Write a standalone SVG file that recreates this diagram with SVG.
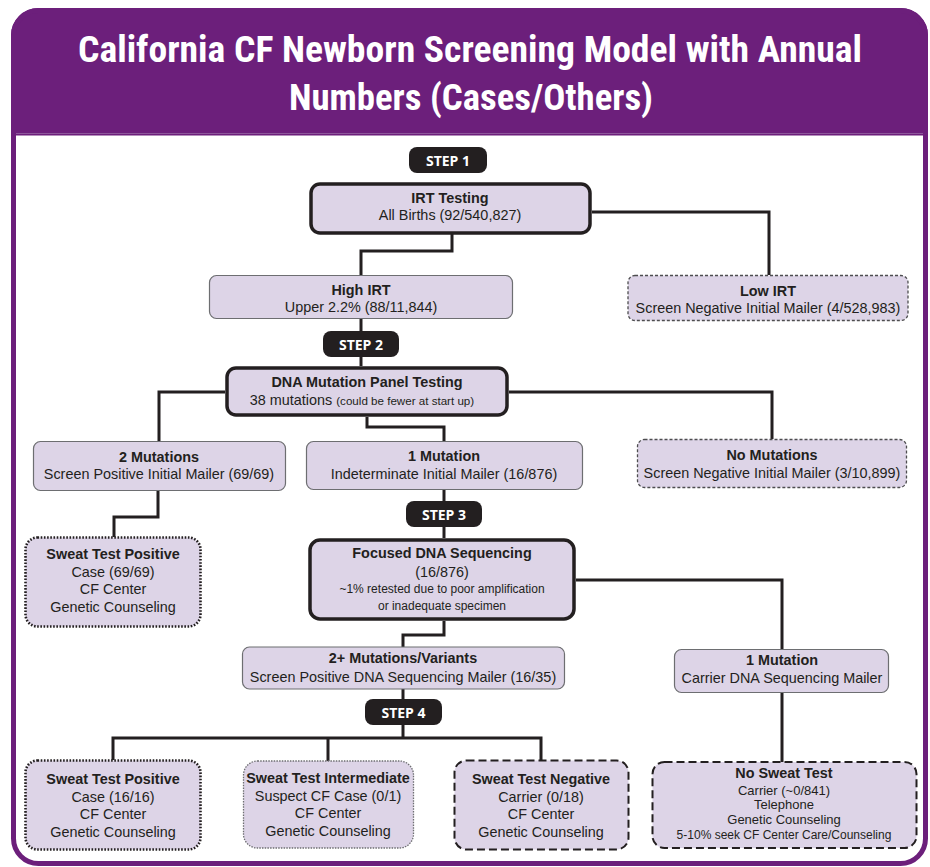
<svg xmlns="http://www.w3.org/2000/svg" width="930" height="867" viewBox="0 0 930 867">
<style>
.title{font-family:"Liberation Sans Narrow","Roboto Condensed",Roboto,"Liberation Sans",sans-serif;font-weight:700;font-size:36px;fill:#ffffff}
.t{font-family:"Liberation Sans",Arial,sans-serif;font-size:14.4px;fill:#231f20;text-anchor:middle}
.b{font-weight:700}
.s{font-size:12px}
.xs{font-size:11.6px}
.m{font-size:13px}
.pill{fill:#231f20}
.pt{font-family:"Open Sans","Liberation Sans",sans-serif;font-weight:700;font-size:14px;fill:#ffffff;text-anchor:middle}
.node{fill:#ddd4e7}
.thick{stroke:#231f20;stroke-width:3.5}
.thin{stroke:#6d6e71;stroke-width:1.2}
.fdash{stroke:#4d4d4f;stroke-width:1.3;stroke-dasharray:3 2}
.bdash{stroke:#231f20;stroke-width:2;stroke-dasharray:8 4}
.dot{stroke:#231f20;stroke-width:2.6;stroke-dasharray:1.6 1.6}
.fdot{stroke:#6d6e71;stroke-width:1.3;stroke-dasharray:1.5 1.2}
#connectors path{fill:none;stroke:#231f20;stroke-width:3}
</style>

<g id="frame">
<rect x="13.5" y="10.5" width="912" height="853" rx="25" ry="25" fill="#ffffff" stroke="#6c1f7b" stroke-width="5"/>
<path d="M13.5,133 V35.5 A25,25 0 0 1 38.5,10.5 H900.5 A25,25 0 0 1 925.5,35.5 V133 Z" fill="#6c1f7b" stroke="#6c1f7b" stroke-width="5"/>
<line x1="16" y1="133.5" x2="923" y2="133.5" stroke="#8e569b" stroke-width="1"/>
<text class="title" x="78" y="62" textLength="784" lengthAdjust="spacingAndGlyphs">California CF Newborn Screening Model with Annual</text>
<text class="title" x="289" y="110" textLength="364" lengthAdjust="spacingAndGlyphs">Numbers (Cases/Others)</text>
</g>

<g id="connectors">
<path d="M452,234 V251 H361 V275"/>
<path d="M592,212 H769 V275"/>
<path d="M361,319 V366"/>
<path d="M225,392 H159 V441"/>
<path d="M509,392 H772 V439"/>
<path d="M367,417 V427 H444 V441"/>
<path d="M158,491 V517 H114 V537"/>
<path d="M444,490 V538"/>
<path d="M576,580 H782 V649"/>
<path d="M444,621 V635 H403 V647"/>
<path d="M403,689 V738"/>
<path d="M113,760 V738 H541 V760"/>
<path d="M328,738 V761"/>
<path d="M782,693 V762"/>
</g>

<g id="irt-testing">
<rect class="node thick" x="311" y="184" width="279" height="49" rx="9"/>
<text class="t b" x="450" y="203">IRT Testing</text>
<text class="t" x="450" y="220">All Births (92/540,827)</text>
</g>

<g id="high-irt">
<rect class="node thin" x="209.5" y="275.5" width="303" height="43" rx="7"/>
<text class="t b" x="361" y="295">High IRT</text>
<text class="t" x="361" y="312">Upper 2.2% (88/11,844)</text>
</g>

<g id="low-irt">
<rect class="node fdash" x="628" y="275.5" width="280" height="45" rx="7"/>
<text class="t b" x="768" y="296">Low IRT</text>
<text class="t" x="768" y="313">Screen Negative Initial Mailer (4/528,983)</text>
</g>

<g id="dna-panel">
<rect class="node thick" x="227" y="368" width="280" height="47" rx="9"/>
<text class="t b" x="367" y="387">DNA Mutation Panel Testing</text>
<text class="t" x="362" y="405">38 mutations <tspan class="xs">(could be fewer at start up)</tspan></text>
</g>

<g id="two-mutations">
<rect class="node thin" x="33.5" y="441.5" width="252" height="49" rx="7"/>
<text class="t b" x="159" y="462">2 Mutations</text>
<text class="t" x="159" y="479">Screen Positive Initial Mailer (69/69)</text>
</g>

<g id="one-mutation">
<rect class="node thin" x="306.5" y="441.5" width="276" height="48" rx="7"/>
<text class="t b" x="444" y="461">1 Mutation</text>
<text class="t" x="444" y="479">Indeterminate Initial Mailer (16/876)</text>
</g>

<g id="no-mutations">
<rect class="node fdash" x="637.5" y="439.5" width="269" height="48" rx="7"/>
<text class="t b" x="772" y="460">No Mutations</text>
<text class="t" x="772" y="478">Screen Negative Initial Mailer (3/10,899)</text>
</g>

<g id="sweat-positive-1">
<rect class="node dot" x="25.5" y="537.5" width="175" height="89" rx="12"/>
<text class="t b" x="113" y="559">Sweat Test Positive</text>
<text class="t" x="113" y="577">Case (69/69)</text>
<text class="t" x="113" y="594">CF Center</text>
<text class="t" x="113" y="612">Genetic Counseling</text>
</g>

<g id="focused-dna">
<rect class="node thick" x="310" y="540" width="264" height="79" rx="10"/>
<text class="t b" x="442" y="558">Focused DNA Sequencing</text>
<text class="t" x="442" y="577">(16/876)</text>
<text class="t s" x="442" y="593">~1% retested due to poor amplification</text>
<text class="t s" x="442" y="610">or inadequate specimen</text>
</g>

<g id="two-plus-mutations">
<rect class="node thin" x="242.5" y="647" width="322" height="42" rx="7"/>
<text class="t b" x="403" y="663">2+ Mutations/Variants</text>
<text class="t" x="403" y="682">Screen Positive DNA Sequencing Mailer (16/35)</text>
</g>

<g id="carrier-mutation">
<rect class="node thin" x="674.5" y="649.5" width="214" height="43" rx="7"/>
<text class="t b" x="782" y="665">1 Mutation</text>
<text class="t" x="782" y="683">Carrier DNA Sequencing Mailer</text>
</g>

<g id="sweat-positive-2">
<rect class="node dot" x="25.5" y="760.5" width="175" height="89" rx="12"/>
<text class="t b" x="113" y="784">Sweat Test Positive</text>
<text class="t" x="113" y="802">Case (16/16)</text>
<text class="t" x="113" y="819">CF Center</text>
<text class="t" x="113" y="837">Genetic Counseling</text>
</g>

<g id="sweat-intermediate">
<rect class="node fdot" x="243.5" y="761" width="170" height="87" rx="14"/>
<text class="t b" x="328" y="783">Sweat Test Intermediate</text>
<text class="t" x="328" y="801">Suspect CF Case (0/1)</text>
<text class="t" x="328" y="818">CF Center</text>
<text class="t" x="328" y="836">Genetic Counseling</text>
</g>

<g id="sweat-negative">
<rect class="node bdash" x="454.5" y="760.5" width="174" height="89" rx="12"/>
<text class="t b" x="541" y="784">Sweat Test Negative</text>
<text class="t" x="541" y="802">Carrier (0/18)</text>
<text class="t" x="541" y="819">CF Center</text>
<text class="t" x="541" y="837">Genetic Counseling</text>
</g>

<g id="no-sweat-test">
<rect class="node bdash" x="652.5" y="762" width="264" height="86" rx="12"/>
<text class="t b" x="784" y="778">No Sweat Test</text>
<text class="t m" x="784" y="794.5">Carrier (~0/841)</text>
<text class="t m" x="784" y="809.3">Telephone</text>
<text class="t m" x="784" y="824.1">Genetic Counseling</text>
<text class="t s" x="784" y="839">5-10% seek CF Center Care/Counseling</text>
</g>

<g id="step-1">
<rect class="pill" x="409" y="147" width="78" height="26" rx="8"/>
<text class="pt" x="448" y="165.5">STEP 1</text>
</g>
<g id="step-2">
<rect class="pill" x="323" y="331" width="76" height="26" rx="8"/>
<text class="pt" x="361" y="349.5">STEP 2</text>
</g>
<g id="step-3">
<rect class="pill" x="406" y="501" width="76" height="26" rx="8"/>
<text class="pt" x="444" y="519.5">STEP 3</text>
</g>
<g id="step-4">
<rect class="pill" x="365" y="699" width="77" height="26" rx="8"/>
<text class="pt" x="403.5" y="717.5">STEP 4</text>
</g>
</svg>
